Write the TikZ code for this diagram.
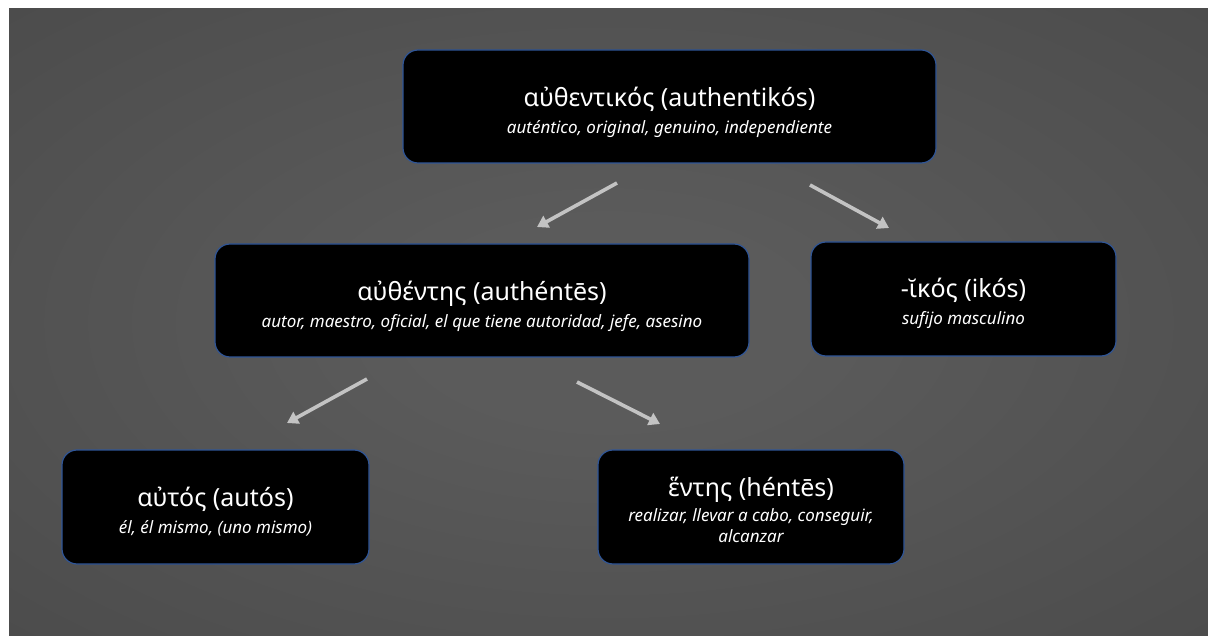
\documentclass[tikz,border=0pt]{standalone}
\usepackage{fontspec}
\setmainfont{Noto Sans}
\usetikzlibrary{arrows.meta}
\definecolor{boxborder}{HTML}{2F5597}
\definecolor{arrowgray}{HTML}{C3C3C3}
\definecolor{bgin}{HTML}{5B5B5B}
\definecolor{bgout}{HTML}{383838}
\pgfdeclareradialshading{bgshade}{\pgfpoint{0bp}{0bp}}{color(0bp)=(bgin); color(8bp)=(bgin); color(72bp)=(bgout)}
\newcommand{\ttlfont}{\fontsize{25}{27}\selectfont}
\newcommand{\subfont}{\fontsize{17}{27}\selectfont\itshape}
\newcommand{\topstrut}{\rule{0pt}{31pt}}
\tikzset{
  wordbox/.style={draw=boxborder, line width=1.2pt, fill=black, rounded corners=15pt,
    text=white, align=center, inner sep=0pt, font=\fontsize{17}{27}\selectfont},
  conn/.style={draw=arrowgray, line width=3.6pt, -{Triangle[width=13pt,length=11pt]}},
}
\begin{document}
\begin{tikzpicture}[x=1pt,y=-1pt]
\useasboundingbox (0,0) rectangle (1208,636);
\fill[white] (0,0) rectangle (1208,636);
\shade[shading=bgshade] (9,9) rectangle (1208,636);

\node[wordbox, minimum width=533pt, minimum height=113pt] (top) at (669.5,106.5)
  {\topstrut{\ttlfont αὐθεντικός (authentikós)}\\{\subfont auténtico, original, genuino, independiente}};
\node[wordbox, minimum width=534pt, minimum height=113pt] (midl) at (482,300.5)
  {\topstrut{\ttlfont αὐθέντης (authéntēs)}\\{\subfont autor, maestro, oficial, el que tiene autoridad, jefe, asesino}};
\node[wordbox, minimum width=305pt, minimum height=114pt] (midr) at (963.5,299)
  {\rule{0pt}{28pt}{\ttlfont -ῐκός (ikós)}\\{\subfont sufijo masculino}};
\node[wordbox, minimum width=307pt, minimum height=114pt] (botl) at (215.5,507)
  {\rule{0pt}{28pt}{\ttlfont αὐτός (autós)}\\{\subfont él, él mismo, (uno mismo)}};
\node[wordbox, minimum width=306pt, minimum height=114pt] (botr) at (751,507)
  {\rule{0pt}{26pt}{\ttlfont ἕντης (héntēs)}\\[-2pt]{\subfont realizar, llevar a cabo, conseguir,}\\[-6pt]{\subfont alcanzar}};

\coordinate (a1s) at (617,183);
\coordinate (a1e) at (537,227);
\coordinate (a2s) at (810,185);
\coordinate (a2e) at (889,228);
\coordinate (a3s) at (367,379);
\coordinate (a3e) at (287,423);
\coordinate (a4s) at (577,382);
\coordinate (a4e) at (660,424);
\draw[conn] (a1s) -- (a1e);
\draw[conn] (a2s) -- (a2e);
\draw[conn] (a3s) -- (a3e);
\draw[conn] (a4s) -- (a4e);
\end{tikzpicture}
\end{document}
